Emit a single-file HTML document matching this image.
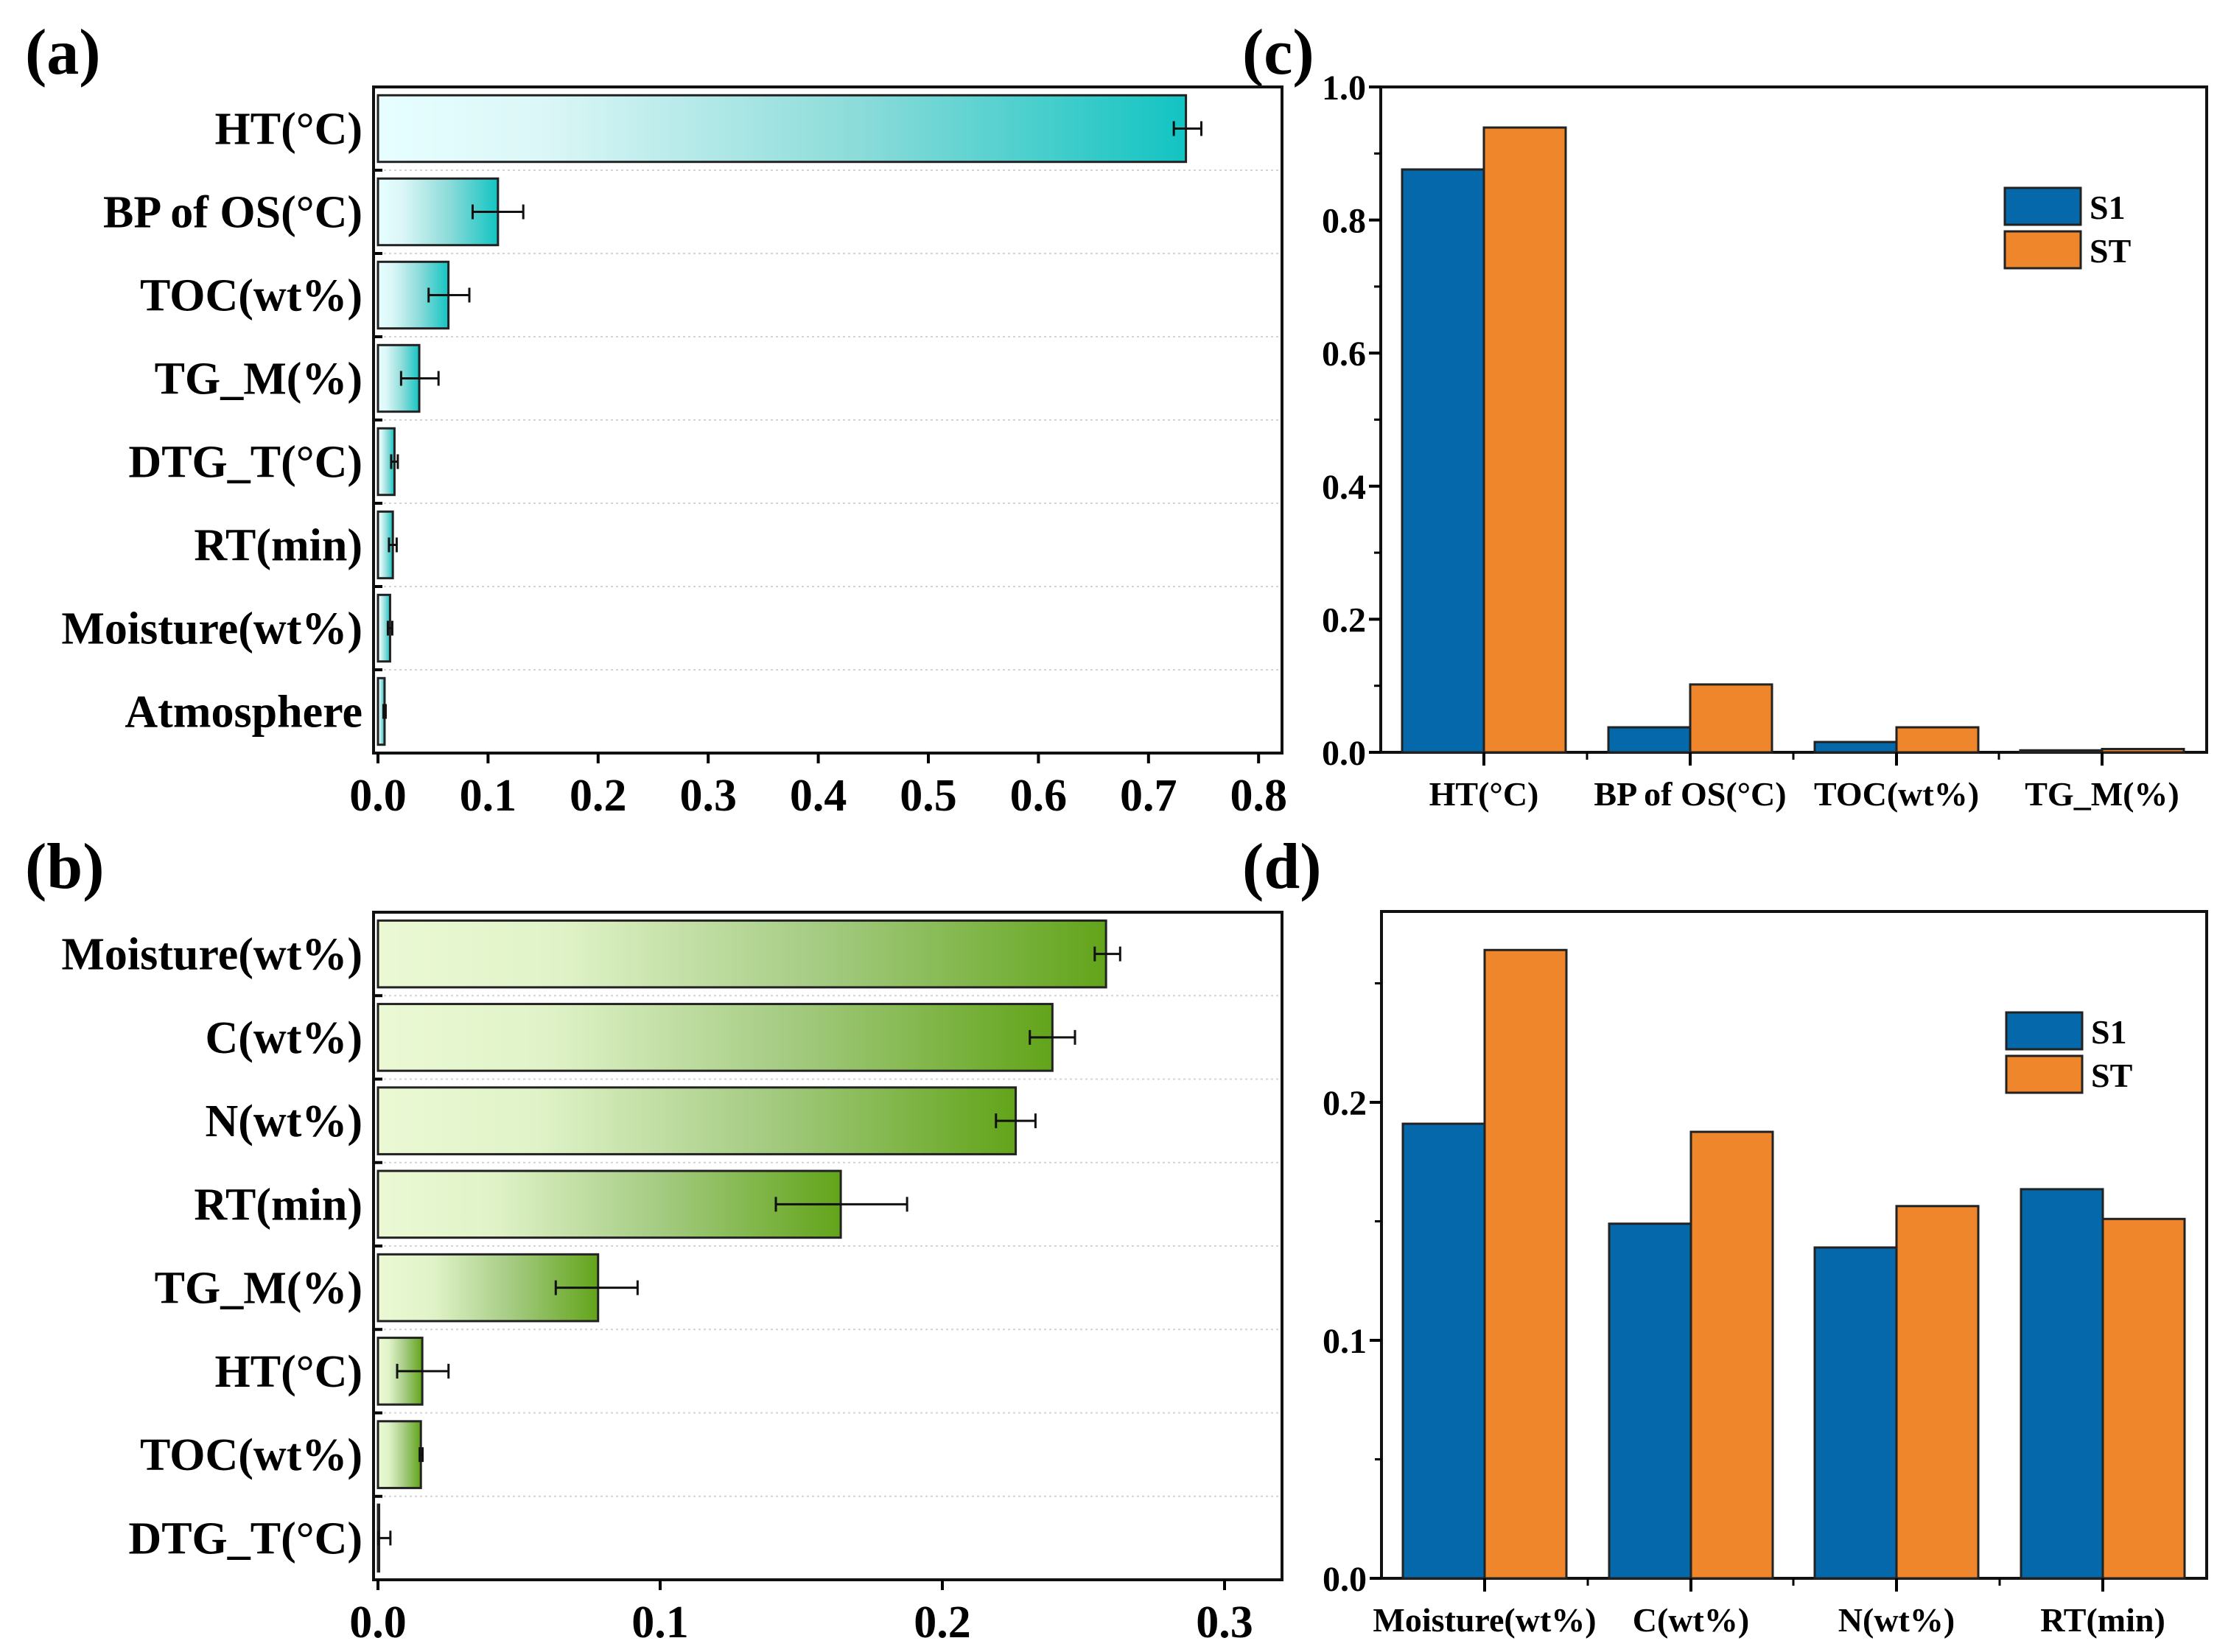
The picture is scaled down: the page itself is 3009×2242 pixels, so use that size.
<!DOCTYPE html>
<html><head><meta charset="utf-8"><style>
html,body{margin:0;padding:0;background:#fff}
svg{display:block}
text{font-family:"Liberation Serif",serif;font-weight:bold;fill:#000}
</style></head><body>
<svg id="fig" width="3009" height="2242" viewBox="0 0 3009 2242" xmlns="http://www.w3.org/2000/svg">
<defs>
<linearGradient id="gradTeal" x1="0" y1="0" x2="1" y2="0">
<stop offset="0" stop-color="#e6feff"/><stop offset="0.2" stop-color="#dcf7f7"/><stop offset="0.6" stop-color="#8adbd9"/><stop offset="1" stop-color="#12c4c2"/>
</linearGradient>
<linearGradient id="gradGreen" x1="0" y1="0" x2="1" y2="0">
<stop offset="0" stop-color="#ebf9d4"/><stop offset="0.25" stop-color="#e0f3c8"/><stop offset="0.6" stop-color="#a6cc84"/><stop offset="1" stop-color="#62a41a"/>
</linearGradient>
</defs>
<text x="34" y="100" font-size="88">(a)</text>
<text x="34" y="1205" font-size="88">(b)</text>
<text x="1686" y="100" font-size="88">(c)</text>
<text x="1686" y="1205" font-size="88">(d)</text>
<g id="panelA"></g>
<g id="panelB"></g>
<g id="panelC"></g>
<g id="panelD"></g>
</svg>
<script>
// Panel (a) data
const aCategories = ["HT(°C)","BP of OS(°C)","TOC(wt%)","TG_M(%)","DTG_T(°C)","RT(min)","Moisture(wt%)","Atmosphere"];
const aValues = [0.734,0.109,0.064,0.0375,0.015,0.0135,0.011,0.006];
const aErrLow = [0.723,0.086,0.046,0.021,0.012,0.010,0.009,0.005];
const aErrHigh = [0.748,0.132,0.083,0.055,0.018,0.017,0.013,0.007];
const aTicks = [0,0.1,0.2,0.3,0.4,0.5,0.6,0.7,0.8];
const aTickLabels = ["0.0","0.1","0.2","0.3","0.4","0.5","0.6","0.7","0.8"];
// Panel (b) data
const bCategories = ["Moisture(wt%)","C(wt%)","N(wt%)","RT(min)","TG_M(%)","HT(°C)","TOC(wt%)","DTG_T(°C)"];
const bValues = [0.258,0.239,0.226,0.164,0.078,0.0157,0.0152,0.0004];
const bErrLow = [0.254,0.231,0.219,0.141,0.063,0.0068,0.0148,0.0];
const bErrHigh = [0.263,0.247,0.233,0.1875,0.092,0.025,0.0158,0.0044];
const bTicks = [0,0.1,0.2,0.3];
const bTickLabels = ["0.0","0.1","0.2","0.3"];
// Panel (c) data
const cCategories = ["HT(°C)","BP of OS(°C)","TOC(wt%)","TG_M(%)"];
const cS1 = [0.876,0.0376,0.0155,0.003];
const cST = [0.939,0.102,0.0376,0.005];
const cTicks = [0,0.2,0.4,0.6,0.8,1.0];
const cTickLabels = ["0.0","0.2","0.4","0.6","0.8","1.0"];
const cMinor = [0.1,0.3,0.5,0.7,0.9];
// Panel (d) data
const dCategories = ["Moisture(wt%)","C(wt%)","N(wt%)","RT(min)"];
const dS1 = [0.191,0.149,0.139,0.1635];
const dST = [0.264,0.1876,0.1564,0.151];
const dTicks = [0,0.1,0.2];
const dTickLabels = ["0.0","0.1","0.2"];
const dMinor = [0.05,0.15,0.25];
const seriesNames = ["S1","ST"];

const NS="http://www.w3.org/2000/svg";
function mk(parent,tag,attrs,txt){const e=document.createElementNS(NS,tag);for(const k in attrs)e.setAttribute(k,attrs[k]);if(txt!==undefined)e.textContent=txt;parent.appendChild(e);return e;}

function hChart(g,cfg){
  const {x0,x1,y0,y1,zx,ppu,cats,vals,lo,hi,ticks,tlabels,grad}=cfg;
  const n=cats.length, bh=(y1-y0)/n;
  const X=v=>zx+v*ppu;
  for(let i=1;i<n;i++){
    const ln=mk(g,'line',{x1:x0,x2:x1,y1:y0+i*bh,y2:y0+i*bh,stroke:'#d4d4d4','stroke-width':2,'stroke-dasharray':'3,4'});
    
    
    const tk=mk(g,'line',{x1:x0,x2:x0+12,y1:y0+i*bh,y2:y0+i*bh,stroke:'#000','stroke-width':4});
    
    
  }
  for(let i=0;i<n;i++){
    const cy=y0+i*bh+bh/2, h=bh*0.8;
    const w=Math.max(X(vals[i])-zx,0.5);
    const r=mk(g,'rect',{x:zx,y:cy-h/2,width:w,height:h,fill:'url(#'+grad+')',stroke:'#222','stroke-width':3});
    
    
    const eg=mk(g,'g',{stroke:'#111','stroke-width':3});
    
    
    mk(eg,'line',{x1:X(lo[i]),x2:X(hi[i]),y1:cy,y2:cy});
    mk(eg,'line',{x1:X(lo[i]),x2:X(lo[i]),y1:cy-10,y2:cy+10});
    mk(eg,'line',{x1:X(hi[i]),x2:X(hi[i]),y1:cy-10,y2:cy+10});
    const t=mk(g,'text',{x:x0-15,y:cy+21,'font-size':62,'text-anchor':'end'},cats[i]);
    
    
  }
  const box=mk(g,'rect',{x:x0,y:y0,width:x1-x0,height:y1-y0,fill:'none',stroke:'#111','stroke-width':4});
  
  
  ticks.forEach((v,i)=>{
    const tk=mk(g,'line',{x1:X(v),x2:X(v),y1:y1,y2:y1+14,stroke:'#000','stroke-width':4});
    
    
    const t=mk(g,'text',{x:X(v),y:y1+78,'font-size':62,'text-anchor':'middle'},tlabels[i]);
    
    
  });
}

function vChart(g,cfg){
  const {x0,x1,y0,y1,zy,ppu,cats,s1,st,ticks,tlabels,minor,centers,leg}=cfg;
  const Y=v=>zy-v*ppu;
  const bw=111;
  const box=mk(g,'rect',{x:x0,y:y0,width:x1-x0,height:y1-y0,fill:'none',stroke:'#111','stroke-width':4});
  
  
  cats.forEach((c,i)=>{
    const cx=centers[i];
    const b1=mk(g,'rect',{x:cx-bw,y:Y(s1[i]),width:bw,height:zy-Y(s1[i]),fill:'#0468aa',stroke:'#222','stroke-width':3});
    
    
    const b2=mk(g,'rect',{x:cx,y:Y(st[i]),width:bw,height:zy-Y(st[i]),fill:'#f0862b',stroke:'#222','stroke-width':3});
    
    
    const tk=mk(g,'line',{x1:cx,x2:cx,y1:y1,y2:y1+18,stroke:'#000','stroke-width':4});
    
    
    if(i>0){
      const mt=mk(g,'line',{x1:cx-140,x2:cx-140,y1:y1,y2:y1+10,stroke:'#000','stroke-width':3});
      
      
    }
    const t=mk(g,'text',{x:cx,y:y1+72,'font-size':46,'text-anchor':'middle'},c);
    
    
  });
  ticks.forEach((v,i)=>{
    const tk=mk(g,'line',{x1:x0-16,x2:x0,y1:Y(v),y2:Y(v),stroke:'#000','stroke-width':4});
    
    
    const t=mk(g,'text',{x:x0-20,y:Y(v)+17,'font-size':48,'text-anchor':'end'},tlabels[i]);
    
    
  });
  minor.forEach(v=>{
    const tk=mk(g,'line',{x1:x0-9,x2:x0,y1:Y(v),y2:Y(v),stroke:'#000','stroke-width':3});
    
    
  });
  const lg=mk(g,'g',{});
  
  
  const cols=['#0468aa','#f0862b'];
  seriesNames.forEach((s,i)=>{
    const yy=leg.y+i*59;
    const r=mk(lg,'rect',{x:leg.x,y:yy,width:103,height:50,fill:cols[i],stroke:'#222','stroke-width':3});
    
    
    const t=mk(lg,'text',{x:leg.x+115,y:yy+42,'font-size':46},s);
    
    
  });
}

hChart(document.getElementById('panelA'),{x0:507,x1:1740,y0:118,y1:1022,zx:513,ppu:1494,cats:aCategories,vals:aValues,lo:aErrLow,hi:aErrHigh,ticks:aTicks,tlabels:aTickLabels,grad:'gradTeal'});
hChart(document.getElementById('panelB'),{x0:507,x1:1740,y0:1238,y1:2144,zx:513,ppu:3830,cats:bCategories,vals:bValues,lo:bErrLow,hi:bErrHigh,ticks:bTicks,tlabels:bTickLabels,grad:'gradGreen'});
vChart(document.getElementById('panelC'),{x0:1874,x1:2995,y0:118,y1:1021,zy:1021,ppu:903,cats:cCategories,s1:cS1,st:cST,ticks:cTicks,tlabels:cTickLabels,minor:cMinor,centers:[2014,2294,2574,2853],leg:{x:2721,y:255}});
vChart(document.getElementById('panelD'),{x0:1875,x1:2995,y0:1237,y1:2142,zy:2142,ppu:3230,cats:dCategories,s1:dS1,st:dST,ticks:dTicks,tlabels:dTickLabels,minor:dMinor,centers:[2015,2295,2574,2854],leg:{x:2723,y:1374}});
</script>
</body></html>
